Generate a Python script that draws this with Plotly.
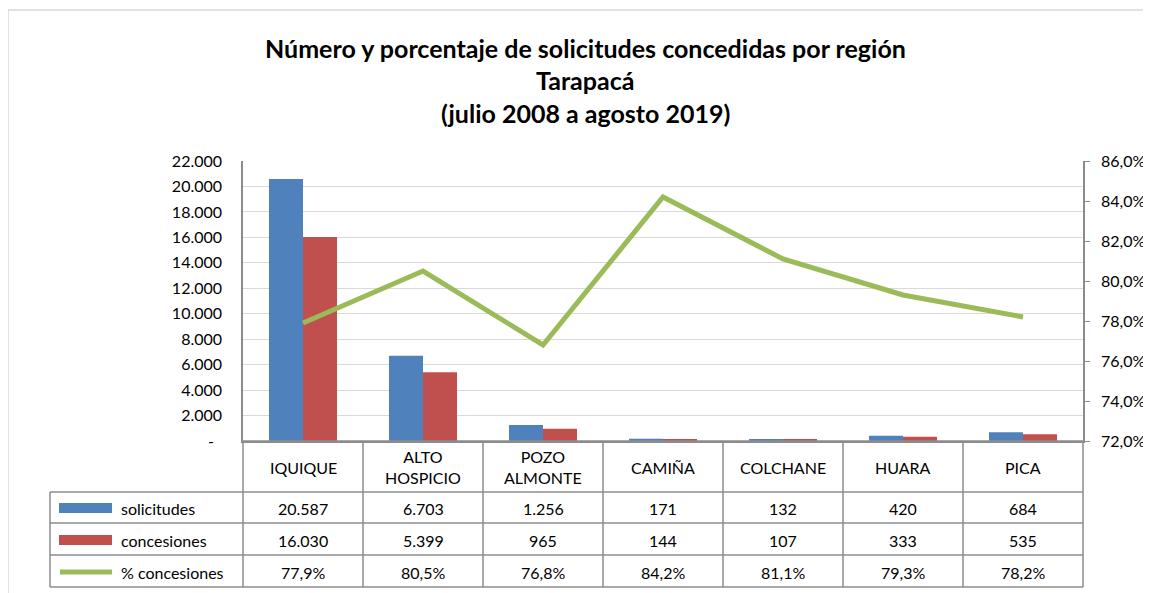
import plotly.graph_objects as go

categories = ["IQUIQUE", "ALTO<br>HOSPICIO", "POZO<br>ALMONTE", "CAMIÑA", "COLCHANE", "HUARA", "PICA"]
solicitudes = [20587, 6703, 1256, 171, 132, 420, 684]
concesiones = [16030, 5399, 965, 144, 107, 333, 535]
pct_concesiones = [77.9, 80.5, 76.8, 84.2, 81.1, 79.3, 78.2]
left_ticks = [0, 2000, 4000, 6000, 8000, 10000, 12000, 14000, 16000, 18000, 20000, 22000]
right_ticks = [72, 74, 76, 78, 80, 82, 84, 86]
series_names = ["solicitudes", "concesiones", "% concesiones"]
title_lines = ["Número y porcentaje de solicitudes concedidas por región", "Tarapacá", "(julio 2008 a agosto 2019)"]

BLUE = "#4F81BD"
RED = "#C0504D"
GREEN = "#9BBB59"
FONT = "Lato"
OFF = 8  # page body margin
W, H = 1151 - OFF, 593 - OFF
# plot area in screen pixels
L, R, T, B = 243, 1083, 161, 441


def fmt_int(v):
    return f"{v:,}".replace(",", ".")


def fmt_pct(v):
    return f"{v:.1f}%".replace(".", ",")


def px(x):
    return (x - L) / (R - L)


def py(y):
    return (B - y) / (B - T)


fig = go.Figure()
fig.add_trace(go.Bar(x=categories, y=solicitudes, name=series_names[0], marker_color=BLUE, marker_line_width=0))
fig.add_trace(go.Bar(x=categories, y=concesiones, name=series_names[1], marker_color=RED, marker_line_width=0))
fig.add_trace(go.Scatter(x=categories, y=pct_concesiones, name=series_names[2], yaxis="y2", mode="lines",
                         line=dict(color=GREEN, width=5)))

shapes = []
annotations = []
line_col = "#8C8C8C"

# outer chart border
shapes.append(dict(type="rect", xref="paper", yref="paper", x0=px(8), x1=px(1175), y0=py(10), y1=py(620),
                   line=dict(color="#D9D9D9", width=1.5), layer="below"))

# table lines
row_y = [B, 492, 523, 555, 587]
col_x = [L + i * (R - L) / len(categories) for i in range(len(categories) + 1)]
for i, y in enumerate(row_y):
    x0 = L if i == 0 else 50
    shapes.append(dict(type="line", xref="paper", yref="paper", x0=px(x0), x1=px(R), y0=py(y), y1=py(y),
                       line=dict(color=line_col, width=1.5)))
for x in col_x:
    shapes.append(dict(type="line", xref="paper", yref="paper", x0=px(x), x1=px(x), y0=py(B), y1=py(587),
                       line=dict(color=line_col, width=1.5)))
shapes.append(dict(type="line", xref="paper", yref="paper", x0=px(50), x1=px(50), y0=py(492), y1=py(587),
                   line=dict(color=line_col, width=1.5)))

tfont = dict(family=FONT, size=16, color="#000000")
# header
for i, c in enumerate(categories):
    cx = (col_x[i] + col_x[i + 1]) / 2
    annotations.append(dict(x=px(cx), y=py(467), xref="paper", yref="paper", text=c, showarrow=False,
                            font=tfont, xanchor="center", yanchor="middle"))
rows = [
    [fmt_int(v) for v in solicitudes],
    [fmt_int(v) for v in concesiones],
    [fmt_pct(v) for v in pct_concesiones],
]
row_centers = [508, 540, 572]
for r, vals in enumerate(rows):
    for i, t in enumerate(vals):
        cx = (col_x[i] + col_x[i + 1]) / 2
        annotations.append(dict(x=px(cx), y=py(row_centers[r]), xref="paper", yref="paper", text=t,
                                showarrow=False, font=tfont, xanchor="center", yanchor="middle"))
    annotations.append(dict(x=px(119), y=py(row_centers[r]), xref="paper", yref="paper", text=series_names[r],
                            showarrow=False, font=tfont, xanchor="left", yanchor="middle"))

# legend keys
shapes.append(dict(type="rect", xref="paper", yref="paper", x0=px(59), x1=px(112), y0=py(503), y1=py(513),
                   fillcolor=BLUE, line=dict(width=0)))
shapes.append(dict(type="rect", xref="paper", yref="paper", x0=px(59), x1=px(112), y0=py(535), y1=py(545),
                   fillcolor=RED, line=dict(width=0)))
shapes.append(dict(type="line", xref="paper", yref="paper", x0=px(60), x1=px(112), y0=py(572), y1=py(572),
                   line=dict(color=GREEN, width=5)))

# title
for text, y in zip(title_lines, [48, 80, 113]):
    annotations.append(dict(x=px(585), y=py(y), xref="paper", yref="paper", text=f"<b>{text}</b>",
                            showarrow=False, font=dict(family=FONT, size=25, color="#000000"),
                            xanchor="center", yanchor="middle"))

fig.update_layout(
    width=W, height=H,
    margin=dict(l=L - OFF, r=W - (R - OFF), t=T - OFF, b=H - (B - OFF), autoexpand=False),
    paper_bgcolor="white", plot_bgcolor="white",
    barmode="group", bargap=0.433, bargroupgap=0,
    showlegend=False,
    font=dict(family=FONT, size=16, color="#000000"),
    separators=",.",
    shapes=shapes,
    annotations=annotations,
    xaxis=dict(type="category", range=[-0.5, len(categories) - 0.5], showticklabels=False, showgrid=False,
               showline=True, linecolor=line_col, linewidth=1.5, ticks="", zeroline=False, fixedrange=True),
    yaxis=dict(range=[0, 22000], tickvals=left_ticks,
               ticktext=["-\u00a0\u00a0" if v == 0 else fmt_int(v) for v in left_ticks],
               showgrid=True, gridcolor="#D9D9D9", gridwidth=1, zeroline=False,
               showline=True, linecolor=line_col, linewidth=1.5, ticks="", ticklabelstandoff=16,
               tickfont=dict(family=FONT, size=16)),
    yaxis2=dict(range=[72, 86], tickvals=right_ticks, ticktext=[fmt_pct(v) for v in right_ticks],
                overlaying="y", side="right", showgrid=False, zeroline=False,
                showline=True, linecolor=line_col, linewidth=1.5, ticks="outside", ticklen=5,
                tickcolor=line_col, ticklabelstandoff=8, tickfont=dict(family=FONT, size=16)),
)

fig.write_html("out.html")
